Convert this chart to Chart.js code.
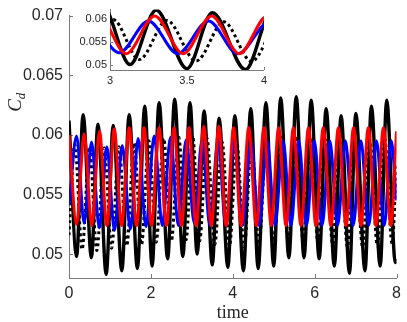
<!DOCTYPE html>
<html><head><meta charset="utf-8">
<script src="https://cdn.jsdelivr.net/npm/chart.js@4.4.1/dist/chart.umd.min.js"></script>
<style>
html,body{margin:0;padding:0;background:#fff;}
#wrap{position:relative;width:407px;height:322px;overflow:hidden;}
#main{position:absolute;left:0;top:0;}
#inset{position:absolute;left:76px;top:0;}
</style></head><body>
<div id="wrap"><canvas id="main" width="407" height="322"></canvas><canvas id="inset" width="195" height="90"></canvas></div>
<script>
// ---- data (times of turning points and values) ----
const blackT = [0,0.185,0.345,0.547,0.707,0.908,1.08,1.29,1.47,1.67,1.85,2.03,2.20,2.41,2.58,2.78,2.955,3.13,3.30,3.50,3.665,3.88,4.05,4.26,4.44,4.62,4.81,5.0,5.17,5.37,5.55,5.74,5.915,6.11,6.28,6.48,6.645,6.85,7.005,7.23,7.385,7.60,7.76,7.97,8.0];
const blackV = [0.0612,0.0498,0.0617,0.0497,0.0609,0.0483,0.0608,0.0486,0.0617,0.0488,0.0624,0.0490,0.0627,0.0496,0.0630,0.0498,0.0627,0.0500,0.0620,0.0491,0.0614,0.0489,0.0616,0.0486,0.0622,0.0488,0.0627,0.0490,0.0631,0.0497,0.0632,0.0497,0.0629,0.0496,0.0622,0.0490,0.0616,0.0484,0.0618,0.0486,0.0624,0.0490,0.0629,0.0493,0.0496];

const dotT = [0,0.14,0.32,0.50,0.68,0.86,1.04,1.22,1.41,1.59,1.77,1.95,2.13,2.31,2.50,2.68,2.86,3.02,3.19,3.37,3.56,3.74,3.92,4.10,4.28,4.46,4.64,4.82,5.00,5.18,5.36,5.54,5.72,5.90,6.08,6.26,6.44,6.62,6.80,6.98,7.17,7.35,7.53,7.71,7.89,8.0];
const dotV = [0.0516,0.0592,0.0504,0.0590,0.0503,0.0589,0.0505,0.0590,0.0507,0.0593,0.0508,0.0595,0.0510,0.0597,0.0511,0.0598,0.0512,0.0599,0.0511,0.0597,0.0508,0.0594,0.0507,0.0593,0.0506,0.0594,0.0507,0.0596,0.0508,0.0598,0.0510,0.0599,0.0511,0.0598,0.0510,0.0596,0.0508,0.0594,0.0506,0.0594,0.0506,0.0595,0.0507,0.0597,0.0509,0.0575];

const redT = [0,0.185,0.37,0.555,0.745,0.925,1.105,1.285,1.47,1.65,1.83,2.015,2.20,2.38,2.565,2.745,2.93,3.105,3.29,3.475,3.66,3.84,4.02,4.205,4.39,4.575,4.76,4.94,5.12,5.30,5.48,5.665,5.85,6.03,6.21,6.395,6.58,6.765,6.95,7.13,7.31,7.495,7.68,7.86,8.0];
const redV = [0.0600,0.0525,0.0601,0.0524,0.0603,0.0524,0.0605,0.0524,0.0606,0.0524,0.0606,0.0524,0.0606,0.0524,0.0606,0.0524,0.0606,0.0524,0.0607,0.0524,0.0607,0.0524,0.0606,0.0524,0.0606,0.0524,0.0606,0.0524,0.0606,0.0524,0.0606,0.0524,0.0606,0.0524,0.0606,0.0524,0.0606,0.0524,0.0606,0.0524,0.0606,0.0524,0.0606,0.0524,0.0603];

const blueT = [0,0.185,0.37,0.55,0.74,0.925,1.11,1.30,1.50,1.69,1.88,2.08,2.28,2.48,2.67,2.86,3.06,3.25,3.44,3.64,3.83,4.04,4.24,4.44,4.64,4.84,5.03,5.23,5.42,5.61,5.80,5.99,6.18,6.37,6.56,6.75,6.94,7.13,7.32,7.51,7.70,7.87,8.0];
const blueV = [0.0541,0.0599,0.0526,0.0594,0.0522,0.0590,0.0520,0.0591,0.0521,0.0597,0.0523,0.0599,0.0524,0.0598,0.0524,0.0596,0.0526,0.0596,0.0524,0.0596,0.0524,0.0595,0.0524,0.0595,0.0524,0.0595,0.0524,0.0595,0.0524,0.0595,0.0524,0.0595,0.0524,0.0595,0.0524,0.0595,0.0524,0.0595,0.0524,0.0595,0.0524,0.0595,0.0545];

const xTicks = [0,2,4,6,8];
const yTicks = [0.05,0.055,0.06,0.065,0.07];
const insetXTicks = [3,3.5,4];
const insetYTicks = [0.05,0.055,0.06];
const xTitle = 'time';
const yTitleMain = 'C';
const yTitleSub = 'd';

const pts = (T,V) => T.map((t,i)=>({x:t,y:V[i]}));
const AX = '#262626';

function makeDatasets(w){
  return [
    {data:pts(redT,redV), borderColor:'#ff0000', borderWidth:w, order:0},
    {data:pts(blueT,blueV), borderColor:'#0000ff', borderWidth:w, order:1},
    {data:pts(dotT,dotV), borderColor:'#000000', borderWidth:w, borderDash:[3,3], order:2},
    {data:pts(blackT,blackV), borderColor:'#000000', borderWidth:w+0.4, order:3}
  ];
}

const inwardTicks = {
  id:'inwardTicks',
  beforeDatasetsDraw(chart, args, opts){
    const {ctx, chartArea} = chart;
    const xs = chart.scales.x, ys = chart.scales.y;
    ctx.save(); ctx.strokeStyle = opts.color; ctx.lineWidth = 1;
    ctx.beginPath();
    xs.ticks.forEach(t=>{ const px = Math.round(xs.getPixelForValue(t.value))+0.5; ctx.moveTo(px, chartArea.bottom); ctx.lineTo(px, chartArea.bottom-opts.len); });
    ys.ticks.forEach(t=>{ const py = Math.round(ys.getPixelForValue(t.value))+0.5; ctx.moveTo(chartArea.left, py); ctx.lineTo(chartArea.left+opts.len, py); });
    ctx.stroke(); ctx.restore();
  }
};

const yTitlePlugin = {
  id:'yTitlePlugin',
  afterDraw(chart){
    const {ctx, chartArea} = chart;
    const cy = (chartArea.top + chartArea.bottom)/2 - 40;
    ctx.save();
    ctx.translate(21, cy + 5);
    ctx.rotate(-Math.PI/2);
    ctx.fillStyle = AX;
    ctx.textBaseline = 'alphabetic'; ctx.textAlign = 'left';
    ctx.font = 'italic 19px "Liberation Serif"';
    ctx.fillText(yTitleMain, 0, 0);
    const w = ctx.measureText(yTitleMain).width;
    ctx.font = 'italic 13px "Liberation Serif"';
    ctx.fillText(yTitleSub, w, 4);
    ctx.restore();
  }
};

function axisOpts(min, max, ticksArr, fontSize, pad, fitSize, isX, extra){
  return Object.assign({
    type:'linear', min:min, max:max,
    afterBuildTicks: s => { s.ticks = ticksArr.map(v=>({value:v})); },
    afterFit: s => { if (isX) s.height = fitSize; else s.width = fitSize; },
    grid:{display:true, drawOnChartArea:false, drawTicks:false},
    border:{display:true, color:'#7a7a7a', width:1},
    ticks:{color:AX, padding:pad, font:{family:'"Liberation Sans", Arial, sans-serif', size:fontSize}, callback:v=>String(v), maxRotation:0, autoSkip:false}
  }, extra||{});
}

new Chart(document.getElementById('main'), {
  type:'line',
  data:{datasets:makeDatasets(3)},
  options:{
    responsive:false, animation:false, devicePixelRatio:1, parsing:false,
    elements:{point:{radius:0}, line:{cubicInterpolationMode:'monotone', capBezierPoints:false, borderJoinStyle:'round', borderCapStyle:'butt'}},
    plugins:{legend:{display:false}, tooltip:{enabled:false}, inwardTicks:{color:'#7a7a7a', len:4}},
    layout:{padding:{top:10, right:5, left:0, bottom:0}},
    scales:{
      x: axisOpts(0, 8, xTicks, 16, 6, 44, true, {title:{display:true, text:xTitle, color:AX, padding:{top:0,bottom:-2}, font:{family:'"Liberation Serif", serif', size:18}}}),
      y: axisOpts(0.048, 0.07, yTicks, 16, 6, 69, false)
    }
  },
  plugins:[inwardTicks, yTitlePlugin]
});

new Chart(document.getElementById('inset'), {
  type:'line',
  data:{datasets:makeDatasets(3)},
  options:{
    responsive:false, animation:false, devicePixelRatio:1, parsing:false,
    elements:{point:{radius:0}, line:{cubicInterpolationMode:'monotone', capBezierPoints:false, borderJoinStyle:'round', borderCapStyle:'butt'}},
    plugins:{legend:{display:false}, tooltip:{enabled:false}, inwardTicks:{color:'#7a7a7a', len:3}},
    layout:{padding:{top:2, right:5, left:0, bottom:0}},
    scales:{
      x: axisOpts(3, 4, insetXTicks, 11, 4, 20, true),
      y: axisOpts(0.0488, 0.0621, insetYTicks, 11, 3, 34, false)
    }
  },
  plugins:[inwardTicks]
});
</script>
</body></html>
